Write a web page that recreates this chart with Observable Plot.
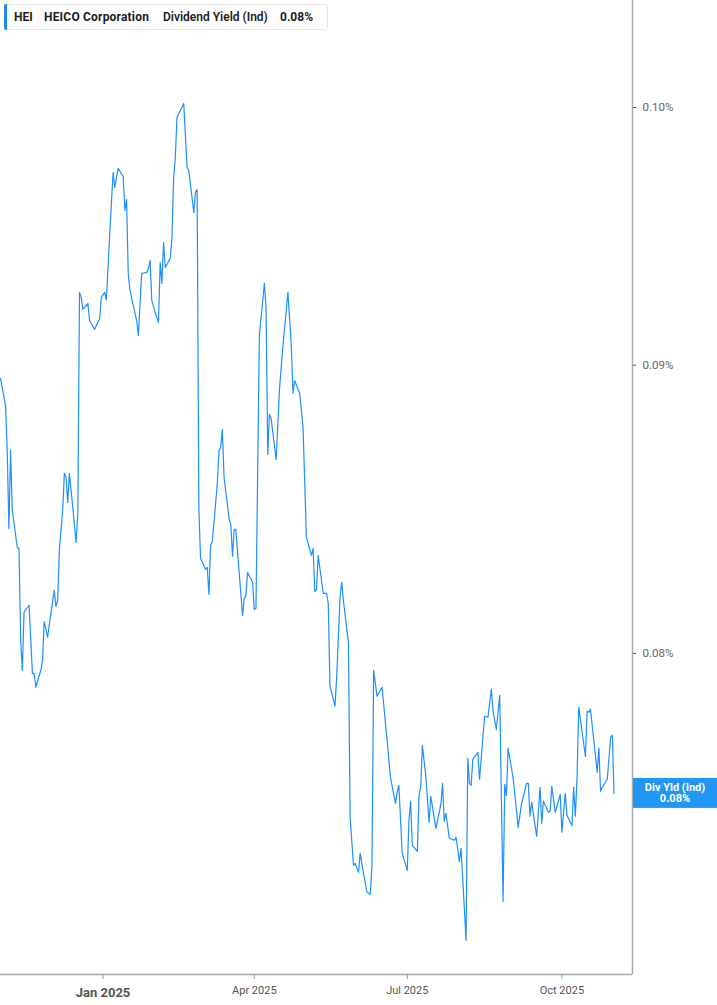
<!DOCTYPE html>
<html><head><meta charset="utf-8">
<script src="https://cdn.jsdelivr.net/npm/d3@7"></script>
<script src="https://cdn.jsdelivr.net/npm/@observablehq/plot@0.6"></script>
<style>
body{margin:0;background:#fff;font-family:Roboto,"Noto Sans",sans-serif;}
#wrap{position:relative;width:717px;height:1005px;overflow:hidden;}
#hdr{position:absolute;left:4px;top:4px;width:324px;height:26px;border:1px solid #e4e4e4;border-radius:3px;background:#fff;box-sizing:border-box;font-size:12px;color:#1d1d1d;}
#hdr .bar{position:absolute;left:-1px;top:-1px;bottom:-1px;width:3px;background:#1e88f0;border-radius:2px 0 0 2px;}
#hdr span{position:absolute;top:5px;line-height:14px;white-space:nowrap;font-weight:700;}
</style></head>
<body>
<div id="wrap">
<div id="chart"></div>
<div id="hdr"><div class="bar"></div><span id="t1" style="left:9px">HEI</span><span id="t2" style="left:39px;letter-spacing:0.2px">HEICO Corporation</span><span id="t3" style="left:158px;font-weight:600">Dividend Yield (Ind)</span><span id="t4" style="left:275px">0.08%</span></div>
</div>
<script>
const ticker = "HEI";
const company = "HEICO Corporation";
const metric = "Dividend Yield (Ind)";
const tagLabel = "Div Yld (Ind)";

const dates = [
"2024-11-01","2024-11-04","2024-11-05","2024-11-06","2024-11-07","2024-11-08","2024-11-11","2024-11-12","2024-11-13","2024-11-14",
"2024-11-15","2024-11-18","2024-11-20","2024-11-21","2024-11-22","2024-11-25","2024-11-26","2024-11-27","2024-11-29","2024-12-01",
"2024-12-03","2024-12-04","2024-12-05","2024-12-06","2024-12-08","2024-12-09","2024-12-10","2024-12-11","2024-12-12","2024-12-14",
"2024-12-16","2024-12-17","2024-12-18","2024-12-19","2024-12-20","2024-12-23","2024-12-24","2024-12-27","2024-12-30","2024-12-31",
"2025-01-02","2025-01-03","2025-01-05","2025-01-07","2025-01-08","2025-01-10","2025-01-13","2025-01-14","2025-01-15","2025-01-16",
"2025-01-17","2025-01-21","2025-01-22","2025-01-24","2025-01-27","2025-01-28","2025-01-29","2025-01-30","2025-02-01","2025-02-03",
"2025-02-04","2025-02-05","2025-02-06","2025-02-07","2025-02-10","2025-02-11","2025-02-12","2025-02-13","2025-02-14","2025-02-18",
"2025-02-20","2025-02-21","2025-02-24","2025-02-25","2025-02-26","2025-02-27","2025-02-28","2025-03-03","2025-03-04","2025-03-05",
"2025-03-06","2025-03-07","2025-03-10","2025-03-11","2025-03-12","2025-03-13","2025-03-14","2025-03-17","2025-03-18","2025-03-19",
"2025-03-20","2025-03-21","2025-03-25","2025-03-26","2025-03-27","2025-03-28","2025-03-31","2025-04-01","2025-04-02","2025-04-04",
"2025-04-07","2025-04-08","2025-04-09","2025-04-10","2025-04-11","2025-04-14","2025-04-16","2025-04-18","2025-04-21","2025-04-23",
"2025-04-24","2025-04-25","2025-04-28","2025-04-30","2025-05-02","2025-05-05","2025-05-06","2025-05-07","2025-05-08","2025-05-09",
"2025-05-12","2025-05-14","2025-05-15","2025-05-16","2025-05-19","2025-05-20","2025-05-22","2025-05-23","2025-05-24","2025-05-27",
"2025-05-28","2025-05-30","2025-05-31","2025-06-02","2025-06-03","2025-06-05","2025-06-07","2025-06-09","2025-06-10","2025-06-11",
"2025-06-13","2025-06-16","2025-06-19","2025-06-21","2025-06-24","2025-06-25","2025-06-26","2025-06-28","2025-07-01","2025-07-02",
"2025-07-03","2025-07-04","2025-07-07","2025-07-08","2025-07-09","2025-07-10","2025-07-12","2025-07-14","2025-07-15","2025-07-18",
"2025-07-21","2025-07-22","2025-07-23","2025-07-24","2025-07-26","2025-07-29","2025-07-30","2025-08-01","2025-08-02","2025-08-05",
"2025-08-06","2025-08-07","2025-08-08","2025-08-09","2025-08-12","2025-08-13","2025-08-16","2025-08-18","2025-08-20","2025-08-21",
"2025-08-23","2025-08-25","2025-08-27","2025-08-28","2025-08-29","2025-08-30","2025-09-02","2025-09-05","2025-09-07","2025-09-10",
"2025-09-11","2025-09-12","2025-09-13","2025-09-16","2025-09-18","2025-09-19","2025-09-20","2025-09-23","2025-09-24","2025-09-25",
"2025-09-27","2025-09-30","2025-10-01","2025-10-03","2025-10-04","2025-10-07","2025-10-08","2025-10-09","2025-10-10","2025-10-11",
"2025-10-15","2025-10-16","2025-10-17","2025-10-18","2025-10-22","2025-10-23","2025-10-24","2025-10-25","2025-10-28","2025-10-30",
"2025-10-31","2025-11-01"
];

const divYield = [
0.08952,0.08853,0.08692,0.08419,0.08692,0.08482,0.08354,0.08351,0.08043,0.07945,
0.08135,0.08159,0.07935,0.07935,0.07890,0.07945,0.07977,0.08105,0.08053,0.08132,
0.08209,0.08155,0.08175,0.08344,0.08482,0.08611,0.08597,0.08509,0.08611,0.08492,
0.08371,0.08471,0.09272,0.09253,0.09208,0.09230,0.09166,0.09133,0.09174,0.09253,
0.09272,0.09245,0.09498,0.09738,0.09678,0.09754,0.09722,0.09588,0.09631,0.09344,
0.09280,0.09166,0.09110,0.09344,0.09348,0.09363,0.09394,0.09242,0.09196,0.09159,
0.09386,0.09306,0.09463,0.09367,0.09402,0.09483,0.09714,0.09798,0.09959,0.10016,
0.09758,0.09746,0.09580,0.09659,0.09670,0.08492,0.08317,0.08280,0.08286,0.08195,
0.08361,0.08375,0.08576,0.08692,0.08703,0.08767,0.08597,0.08454,0.08433,0.08324,
0.08416,0.08416,0.08125,0.08182,0.08192,0.08269,0.08236,0.08145,0.08149,0.09110,
0.09306,0.09211,0.08678,0.08821,0.08806,0.08660,0.08915,0.09069,0.09272,0.09073,
0.08897,0.08944,0.08897,0.08774,0.08389,0.08327,0.08351,0.08205,0.08212,0.08327,
0.08199,0.08199,0.08165,0.07896,0.07829,0.07922,0.08185,0.08236,0.08175,0.08036,
0.07482,0.07336,0.07342,0.07315,0.07372,0.07312,0.07256,0.07250,0.07336,0.07945,
0.07861,0.07890,0.07721,0.07605,0.07524,0.07558,0.07580,0.07372,0.07321,0.07472,
0.07531,0.07396,0.07378,0.07549,0.07577,0.07705,0.07611,0.07466,0.07546,0.07448,
0.07521,0.07586,0.07469,0.07494,0.07418,0.07412,0.07421,0.07348,0.07387,0.07115,
0.07664,0.07586,0.07580,0.07661,0.07683,0.07599,0.07797,0.07794,0.07883,0.07816,
0.07755,0.07864,0.07229,0.07583,0.07549,0.07696,0.07602,0.07451,0.07524,0.07586,
0.07586,0.07485,0.07528,0.07424,0.07574,0.07463,0.07531,0.07497,0.07500,0.07577,
0.07497,0.07552,0.07436,0.07555,0.07488,0.07457,0.07574,0.07485,0.07602,0.07826,
0.07670,0.07813,0.07810,0.07819,0.07620,0.07696,0.07562,0.07574,0.07599,0.07730,
0.07737,0.07555
];

const xDomain = ["2024-11-01","2025-11-12"];
const yDomain = [0.07016, 0.10447];
const yTicks = [0.08, 0.09, 0.10];
const xTicksBold = ["2025-01-01"];
const xTicks = ["2025-04-01","2025-07-01","2025-10-01"];

const data = dates.map((d, i) => ({date: new Date(d), value: divYield[i]}));
const fmtPct = d => d.toFixed(2) + "%";
const fmtDate = d3.utcFormat("%b %Y");

const chart = Plot.plot({
  width: 717,
  height: 1005,
  marginLeft: 0,
  marginRight: 85,
  marginTop: 0,
  marginBottom: 31,
  style: {fontFamily: "Roboto, 'Noto Sans', sans-serif", background: "#fff", color: "#666"},
  x: {type: "utc", domain: xDomain.map(d => new Date(d)), label: null},
  y: {type: "log", domain: yDomain, label: null},
  marks: [
    Plot.ruleY([yDomain[0]], {stroke: "#aaaaaa", strokeWidth: 1.5}),
    Plot.ruleX([new Date(xDomain[1])], {stroke: "#aaaaaa", strokeWidth: 1.5}),
    Plot.axisX({ticks: xTicksBold.map(d => new Date(d)), tickFormat: fmtDate, tickSize: 5, tickPadding: 8, fontSize: 13, fontWeight: "bold", color: "#555", stroke: "#999", label: null}),
    Plot.axisX({ticks: xTicks.map(d => new Date(d)), tickFormat: fmtDate, tickSize: 5, tickPadding: 7, fontSize: 11, color: "#555", stroke: "#999", label: null}),
    Plot.axisY({anchor: "right", ticks: yTicks, tickFormat: fmtPct, tickSize: 3, tickPadding: 7, fontSize: 11.5, color: "#666", stroke: "#555", label: null}),
    Plot.line(data, {x: "date", y: "value", stroke: "#1e8fff", strokeWidth: 1.2})
  ]
});

document.getElementById("chart").appendChild(chart);

// value tag on the right axis, positioned through the plot's own scales
const last = divYield[divYield.length - 1];
const yPos = chart.scale("y").apply(last);
const xRight = chart.scale("x").apply(new Date(xDomain[1]));
const svg = d3.select(chart);
const g = svg.append("g");
g.append("rect").attr("x", xRight + 1).attr("y", yPos - 15).attr("width", 717 - xRight - 1).attr("height", 30).attr("fill", "#2196f3");
g.append("text").attr("x", (xRight + 718) / 2).attr("y", yPos - 2).attr("text-anchor", "middle")
  .attr("fill", "#fff").attr("font-size", 11).attr("font-weight", "bold").text(tagLabel);
g.append("text").attr("x", (xRight + 718) / 2).attr("y", yPos + 9.5).attr("text-anchor", "middle")
  .attr("fill", "#fff").attr("font-size", 11).attr("font-weight", "bold").text(fmtPct(last));

document.getElementById("t1").textContent = ticker;
document.getElementById("t2").textContent = company;
document.getElementById("t3").textContent = metric;
document.getElementById("t4").textContent = fmtPct(last);
</script>
</body></html>
